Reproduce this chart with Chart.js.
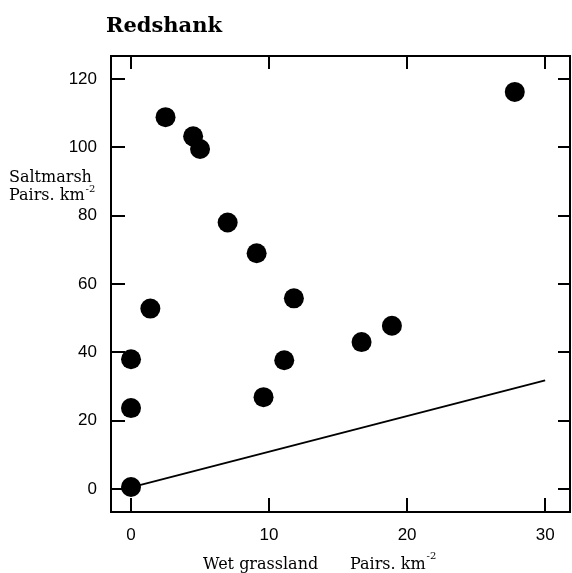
<!DOCTYPE html>
<html>
<head>
<meta charset="utf-8">
<script src="https://cdn.jsdelivr.net/npm/chart.js@4.4.1/dist/chart.umd.min.js"></script>
<style>
html,body{margin:0;padding:0;background:#fff;}
#wrap{width:572px;height:573px;}
</style>
</head>
<body>
<div id="wrap"><canvas id="c" width="572" height="573"></canvas></div>
<script>
// Data
const wetGrassland = [0, 0, 0, 1.4, 2.5, 4.5, 5.0, 7.0, 9.1, 11.8, 9.6, 11.1, 16.7, 18.9, 27.8];
const saltmarsh    = [0.6, 23.7, 38, 52.8, 108.8, 103.2, 99.5, 78, 69, 55.8, 26.9, 37.7, 43, 47.8, 116.2];
const lineX = [0, 30];
const lineY = [0.5, 31.8];
const xTicks = [0, 10, 20, 30];
const yTicks = [0, 20, 40, 60, 80, 100, 120];
const titleText = "Redshank";
const yTitle = ["Saltmarsh", "Pairs. km"];
const xTitle = ["Wet grassland", "Pairs. km"];

const points = wetGrassland.map((x, i) => ({x: x, y: saltmarsh[i]}));
const linePts = lineX.map((x, i) => ({x: x, y: lineY[i]}));

const serif = "'DejaVu Serif', 'Liberation Serif', serif";
const sans = "'Liberation Sans', Arial, sans-serif";

const framePlugin = {
  id: 'frame',
  afterDraw(chart) {
    const ctx = chart.ctx;
    const a = chart.chartArea;
    const xs = chart.scales.x, ys = chart.scales.y;
    ctx.save();
    ctx.strokeStyle = '#000';
    ctx.lineWidth = 2;
    ctx.strokeRect(a.left, a.top, a.right - a.left, a.bottom - a.top);
    const tl = 14;
    ctx.beginPath();
    xTicks.forEach(v => {
      const px = Math.round(xs.getPixelForValue(v));
      ctx.moveTo(px, a.bottom); ctx.lineTo(px, a.bottom - tl);
      ctx.moveTo(px, a.top); ctx.lineTo(px, a.top + tl - 1);
    });
    yTicks.forEach(v => {
      const py = Math.round(ys.getPixelForValue(v));
      ctx.moveTo(a.left, py); ctx.lineTo(a.left + tl, py);
      ctx.moveTo(a.right, py); ctx.lineTo(a.right - tl + 2, py);
    });
    ctx.stroke();

    ctx.fillStyle = '#000';
    ctx.textBaseline = 'alphabetic';
    // Title
    ctx.font = "bold 21px " + serif;
    ctx.textAlign = 'left';
    ctx.fillText(titleText, 106, 32);
    // Y title
    ctx.font = "16px " + serif;
    ctx.fillText(yTitle[0], 9, 182);
    ctx.fillText(yTitle[1], 9, 200);
    let w = ctx.measureText(yTitle[1]).width;
    ctx.font = "10px " + serif;
    ctx.fillText("-2", 9 + w + 1, 192);
    // X title
    ctx.font = "16px " + serif;
    ctx.fillText(xTitle[0], 203, 569);
    ctx.fillText(xTitle[1], 350, 569);
    w = ctx.measureText(xTitle[1]).width;
    ctx.font = "10px " + serif;
    ctx.fillText("-2", 350 + w + 1, 559);
    ctx.restore();
  }
};

new Chart(document.getElementById('c'), {
  type: 'scatter',
  data: {
    datasets: [
      {
        data: points,
        backgroundColor: '#000',
        borderColor: '#000',
        pointRadius: 10,
        pointHoverRadius: 10,
        borderWidth: 0
      },
      {
        type: 'line',
        data: linePts,
        borderColor: '#000',
        borderWidth: 2,
        pointRadius: 0,
        fill: false,
        showLine: true
      }
    ]
  },
  options: {
    responsive: false,
    animation: false,
    events: [],
    layout: {autoPadding: false, padding: {top: 56, right: 2, left: 0, bottom: 0}},
    plugins: {legend: {display: false}, tooltip: {enabled: false}, title: {display: false}},
    scales: {
      x: {
        type: 'linear',
        min: -1.45, max: 31.8,
        afterBuildTicks: s => { s.ticks = xTicks.map(v => ({value: v})); },
        afterFit: s => { s.height = 61; },
        grid: {display: false, drawTicks: false},
        border: {display: false},
        ticks: {color: '#000', font: {family: sans, size: 17}, padding: 13, maxRotation: 0}
      },
      y: {
        type: 'linear',
        min: -6.7, max: 126.7,
        afterBuildTicks: s => { s.ticks = yTicks.map(v => ({value: v})); },
        afterFit: s => { s.width = 111; },
        grid: {display: false, drawTicks: false},
        border: {display: false},
        ticks: {color: '#000', font: {family: sans, size: 17}, padding: 14}
      }
    }
  },
  plugins: [framePlugin]
});
</script>
</body>
</html>
